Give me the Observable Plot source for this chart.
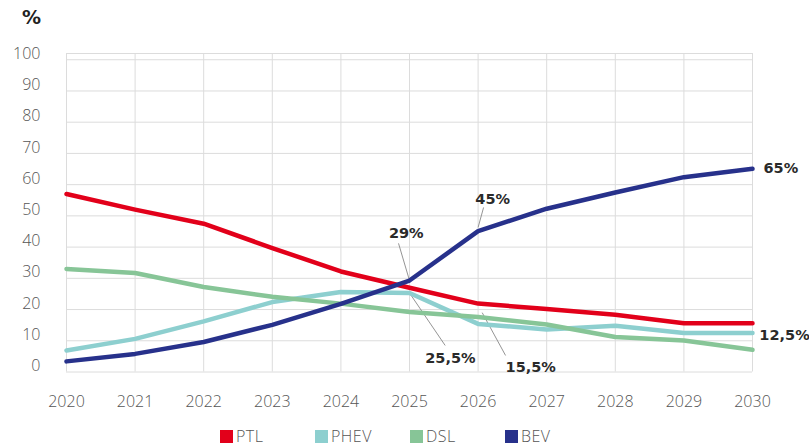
<!DOCTYPE html>
<html>
<head>
<meta charset="utf-8">
<script src="https://cdn.jsdelivr.net/npm/d3@7"></script>
<script src="https://cdn.jsdelivr.net/npm/@observablehq/plot@0.6"></script>
<style>
  html, body { margin: 0; padding: 0; background: #fff; overflow: hidden; }
  #wrap { position: relative; width: 809px; height: 446px; font-family: "Open Sans", sans-serif; }
  #unit { position: absolute; left: 22px; top: 6px; font-size: 19px; font-weight: 700; color: #222; font-family: "DejaVu Sans", sans-serif; }
  #legend { position: absolute; left: 220px; top: 427px; display: flex; font-size: 16px; line-height: 18px; font-weight: 300; color: #555; letter-spacing: 0.5px; }
  #legend .item { display: flex; align-items: center; width: 95px; }
  #legend .sw { width: 13px; height: 13px; margin-right: 3px; }
</style>
</head>
<body>
<div id="wrap">
  <div id="unit">%</div>
  <div id="chart"></div>
  <div id="legend"></div>
</div>
<script>
const years = [2020, 2021, 2022, 2023, 2024, 2025, 2026, 2027, 2028, 2029, 2030];
const seriesNames = ["PTL", "PHEV", "DSL", "BEV"];
const seriesColors = ["#e2001a", "#8dcfcf", "#87c597", "#27318b"];
const ptl  = [57, 52, 47.5, 39.7, 32.2, 27, 21.9, 20.2, 18.3, 15.6, 15.6];
const phev = [6.9, 10.6, 16.2, 22.4, 25.6, 25.3, 15.4, 13.6, 14.8, 12.5, 12.5];
const dsl  = [33, 31.7, 27.2, 24.1, 21.9, 19.2, 17.6, 15.2, 11.2, 10.1, 7.1];
const bev  = [3.4, 5.8, 9.6, 15.1, 21.8, 29.3, 45.1, 52.3, 57.5, 62.4, 65.1];
const yTicks = [0, 10, 20, 30, 40, 50, 60, 70, 80, 90, 100];
const yTop = 102;

// annotations: label text and label anchor (year, value)
const annLabels = ["45%", "29%", "25,5%", "15,5%", "65%", "12,5%"];
const annLabelX = [2025.96, 2024.7, 2025.23, 2026.4, 2030.16, 2030.1];
const annLabelY = [55.3, 44.5, 4.3, 1.4, 65.2, 11.8];
// leader lines: from (x1,y1) on the series to (x2,y2) near the label
const leadX1 = [2026.0, 2025.0, 2025.0, 2026.06];
const leadY1 = [46.3, 29.3, 25.3, 19.0];
const leadX2 = [2026.08, 2024.84, 2025.52, 2026.4];
const leadY2 = [52.7, 41.2, 8.5, 5.3];

const seriesData = [ptl, phev, dsl, bev];
const rows = [];
seriesNames.forEach((name, i) => {
  years.forEach((yr, j) => rows.push({series: name, year: yr, value: seriesData[i][j]}));
});

const ann = annLabels.map((t, i) => ({text: t, lx: annLabelX[i], ly: annLabelY[i]}));
const leaders = leadX1.map((x, i) => ({x1: x, y1: leadY1[i], x2: leadX2[i], y2: leadY2[i]}));

const chart = Plot.plot({
  width: 809,
  height: 446,
  marginLeft: 66,
  marginRight: 57,
  marginTop: 53,
  marginBottom: 74.5,
  style: {fontFamily: "Open Sans, sans-serif", background: "#fff"},
  x: {domain: [2020, 2030], ticks: years, tickFormat: d3.format("d"), tickSize: 0, tickPadding: 24, label: null},
  y: {domain: [0, yTop], ticks: yTicks, tickSize: 0, tickPadding: 26, label: null},
  color: {domain: seriesNames, range: seriesColors},
  marks: [
    Plot.gridY(yTicks, {stroke: "#dcdcdc", strokeOpacity: 1, strokeWidth: 1}),
    Plot.gridX(years, {stroke: "#dcdcdc", strokeOpacity: 1, strokeWidth: 1}),
    Plot.ruleY([yTop], {stroke: "#dcdcdc"}),
    Plot.axisY(yTicks, {tickSize: 0, tickPadding: 26, dy: -6, fontSize: 16, fontWeight: 300, fill: "#555", tickFormat: d3.format("d")}),
    Plot.axisX(years, {tickSize: 0, tickPadding: 24, fontSize: 16, fontWeight: 300, fill: "#555", tickFormat: d3.format("d")}),
    Plot.link(leaders, {x1: "x1", y1: "y1", x2: "x2", y2: "y2", stroke: "#888", strokeWidth: 0.9}),
    Plot.line(rows, {x: "year", y: "value", z: "series", stroke: "series", strokeWidth: 4.5, strokeLinejoin: "round"}),
    Plot.text(ann, {x: "lx", y: "ly", text: "text", fontSize: 14.5, fontWeight: 700, fontFamily: "DejaVu Sans, sans-serif", fill: "#2a2a2a", textAnchor: "start"})
  ]
});
document.getElementById("chart").appendChild(chart);

const legend = document.getElementById("legend");
seriesNames.forEach((n, i) => {
  const it = document.createElement("div");
  it.className = "item";
  it.innerHTML = `<span class="sw" style="background:${seriesColors[i]}"></span><span>${n}</span>`;
  legend.appendChild(it);
});
</script>
</body>
</html>
